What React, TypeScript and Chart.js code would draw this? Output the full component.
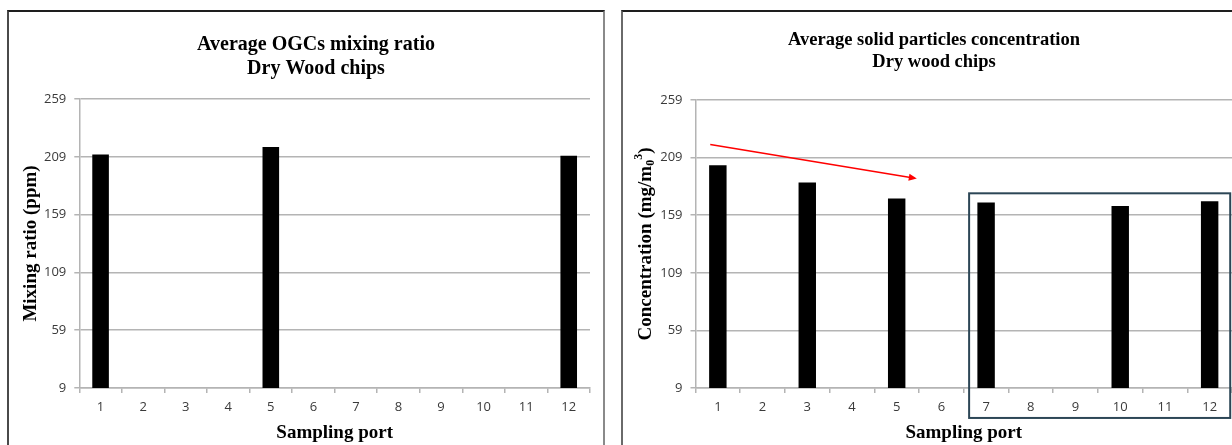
import React, { useEffect, useRef } from "react";
import { Chart, registerables } from "chart.js";

Chart.register(...registerables);

// ---------- data ----------
const ports = ["1", "2", "3", "4", "5", "6", "7", "8", "9", "10", "11", "12"];
const yTicks = [9, 59, 109, 159, 209, 259];
const ogcValues = [211, null, null, null, 217.5, null, null, null, null, null, null, 210];
const particleValues = [202.4, null, 187.3, null, 173.4, null, 170, null, null, 167, null, 171.2];
const ogcTitle = ["Average OGCs mixing ratio", "Dry Wood chips"];
const particleTitle = ["Average solid particles concentration", "Dry wood chips"];
const xTitle = "Sampling port";
const ogcYTitle = [{ text: "Mixing ratio (ppm)", size: 19, dy: 0 }];
const particleYTitle = [
  { text: "Concentration (mg/m", size: 19, dy: 0 },
  { text: "0", size: 12, dy: 5 },
  { text: "3", size: 12, dy: -7 },
  { text: ")", size: 19, dy: 0 },
];
// trend arrow in data coordinates (category index, value)
const trendArrow = [
  { x: -0.17, y: 220.3 },
  { x: 4.45, y: 190.8 },
];
// highlight frame in data coordinates
const highlightBox = { xMin: 5.62, xMax: 11.46, yMin: -17, yMax: 178 };

type Seg = { text: string; size: number; dy: number };
type Spec = {
  left: number;
  top: number;
  w: number;
  h: number;
  values: (number | null)[];
  title: string[];
  titleSize: number;
  titleX: number;
  titleY: number[];
  yTitle: Seg[];
  yTitleX: number;
  xTitleY: number;
  padTop: number;
  padRight: number;
  yAxisWidth: number;
  xAxisHeight: number;
  arrow?: { x: number; y: number }[];
  box?: { xMin: number; xMax: number; yMin: number; yMax: number };
};

const SERIF = '"Liberation Serif", "Times New Roman", serif';
const SANS = '"Open Sans", "Noto Sans", sans-serif';
const GRID = "#b4b4b4";

function buildChart(canvas: HTMLCanvasElement, spec: Spec) {
  const overlay = {
    id: "overlay",
    afterDraw(chart: any) {
      const ctx: CanvasRenderingContext2D = chart.ctx;
      const area = chart.chartArea;
      const xs = chart.scales.x;
      const ys = chart.scales.y;
      ctx.save();
      ctx.fillStyle = "#000";
      ctx.textAlign = "center";
      ctx.textBaseline = "middle";
      // chart title
      ctx.font = `bold ${spec.titleSize}px ${SERIF}`;
      spec.title.forEach((t, i) => ctx.fillText(t, spec.titleX, spec.titleY[i]));
      // x axis title
      ctx.font = `bold 19px ${SERIF}`;
      ctx.fillText(xTitle, (area.left + area.right) / 2, spec.xTitleY);
      // y axis title (rotated, with sub/superscripts)
      ctx.save();
      ctx.translate(spec.yTitleX, (area.top + area.bottom) / 2);
      ctx.rotate(-Math.PI / 2);
      ctx.textAlign = "left";
      let total = 0;
      const widths = spec.yTitle.map((s) => {
        ctx.font = `bold ${s.size}px ${SERIF}`;
        const w = ctx.measureText(s.text).width;
        total += w;
        return w;
      });
      let cx = -total / 2;
      spec.yTitle.forEach((s, i) => {
        ctx.font = `bold ${s.size}px ${SERIF}`;
        ctx.fillText(s.text, cx, s.dy);
        cx += widths[i];
      });
      ctx.restore();
      // arrow
      if (spec.arrow) {
        const x1 = xs.getPixelForValue(spec.arrow[0].x);
        const y1 = ys.getPixelForValue(spec.arrow[0].y);
        const x2 = xs.getPixelForValue(spec.arrow[1].x);
        const y2 = ys.getPixelForValue(spec.arrow[1].y);
        const ang = Math.atan2(y2 - y1, x2 - x1);
        const hl = 8;
        const hw = 3.5;
        ctx.strokeStyle = "#ff0000";
        ctx.fillStyle = "#ff0000";
        ctx.lineWidth = 1.5;
        ctx.beginPath();
        ctx.moveTo(x1, y1);
        ctx.lineTo(x2 - Math.cos(ang) * hl * 0.8, y2 - Math.sin(ang) * hl * 0.8);
        ctx.stroke();
        ctx.beginPath();
        ctx.moveTo(x2, y2);
        ctx.lineTo(
          x2 - Math.cos(ang) * hl - Math.sin(ang) * hw,
          y2 - Math.sin(ang) * hl + Math.cos(ang) * hw
        );
        ctx.lineTo(
          x2 - Math.cos(ang) * hl + Math.sin(ang) * hw,
          y2 - Math.sin(ang) * hl - Math.cos(ang) * hw
        );
        ctx.closePath();
        ctx.fill();
      }
      // highlight box
      if (spec.box) {
        const bx1 = xs.getPixelForValue(spec.box.xMin);
        const bx2 = xs.getPixelForValue(spec.box.xMax);
        const by1 = ys.getPixelForValue(spec.box.yMax);
        const by2 = ys.getPixelForValue(spec.box.yMin);
        ctx.strokeStyle = "#2c4656";
        ctx.lineWidth = 2;
        ctx.strokeRect(bx1, by1, bx2 - bx1, by2 - by1);
      }
      ctx.restore();
    },
  };

  return new Chart(canvas, {
    type: "bar",
    data: {
      labels: ports,
      datasets: [
        {
          data: spec.values as any,
          backgroundColor: "#000000",
          borderColor: "#000000",
          borderWidth: 0,
          barPercentage: 0.39,
          categoryPercentage: 1,
        },
      ],
    },
    options: {
      responsive: false,
      animation: false,
      devicePixelRatio: window.devicePixelRatio || 1,
      layout: { padding: { left: 0, right: spec.padRight, top: spec.padTop, bottom: 0 } },
      plugins: {
        legend: { display: false },
        tooltip: { enabled: false },
        title: { display: false },
      },
      scales: {
        x: {
          grid: {
            display: true,
            drawOnChartArea: false,
            drawTicks: true,
            tickLength: 5,
            color: GRID,
            lineWidth: 1.5,
            offset: true,
          },
          border: { display: true, color: GRID, width: 1.5 },
          ticks: {
            font: { family: SANS, size: 13 },
            color: "#3a3a3a",
            padding: 6,
            maxRotation: 0,
            autoSkip: false,
          },
          afterFit: (s: any) => {
            s.height = spec.xAxisHeight;
          },
        },
        y: {
          min: 9,
          max: 259,
          afterBuildTicks: (s: any) => {
            s.ticks = yTicks.map((v) => ({ value: v }));
          },
          afterFit: (s: any) => {
            s.width = spec.yAxisWidth;
          },
          grid: { color: GRID, lineWidth: 1.5, tickLength: 5, drawTicks: true },
          border: { display: true, color: GRID, width: 1.5 },
          ticks: {
            font: { family: SANS, size: 13 },
            color: "#3a3a3a",
            padding: 8,
          },
        },
      },
    },
    plugins: [overlay],
  } as any);
}

function ChartCanvas({ spec }: { spec: Spec }) {
  const ref = useRef<HTMLCanvasElement>(null);
  useEffect(() => {
    if (!ref.current) return;
    const chart = buildChart(ref.current, spec);
    return () => chart.destroy();
  }, []);
  return (
    <canvas
      ref={ref}
      width={spec.w}
      height={spec.h}
      style={{
        position: "absolute",
        left: spec.left,
        top: spec.top,
        width: spec.w,
        height: spec.h,
        display: "block",
      }}
    />
  );
}

const leftSpec: Spec = {
  left: 8,
  top: 11,
  w: 596,
  h: 434,
  values: ogcValues,
  title: ogcTitle,
  titleSize: 20,
  titleX: 308,
  titleY: [34, 58],
  yTitle: ogcYTitle,
  yTitleX: 23,
  xTitleY: 422,
  padTop: 88,
  padRight: 14,
  yAxisWidth: 71.3,
  xAxisHeight: 57,
};

const rightSpec: Spec = {
  left: 622,
  top: 11,
  w: 610,
  h: 434,
  values: particleValues,
  title: particleTitle,
  titleSize: 18.5,
  titleX: 312,
  titleY: [29, 51],
  yTitle: particleYTitle,
  yTitleX: 24,
  xTitleY: 422,
  padTop: 89,
  padRight: 0,
  yAxisWidth: 73.5,
  xAxisHeight: 57,
  arrow: trendArrow,
  box: highlightBox,
};

export default function App() {
  return (
    <div
      style={{
        position: "fixed",
        left: 0,
        top: 0,
        width: 1232,
        height: 445,
        overflow: "hidden",
        background: "#ffffff",
      }}
    >
      <div
        style={{
          position: "absolute",
          left: 7,
          top: 10,
          width: 598,
          height: 470,
          boxSizing: "border-box",
          borderTop: "2px solid #1e1e1e",
          borderLeft: "2px solid #4a4a4a",
          borderRight: "2px solid #8a8a8a",
        }}
      />
      <div
        style={{
          position: "absolute",
          left: 621,
          top: 10,
          width: 700,
          height: 470,
          boxSizing: "border-box",
          borderTop: "2px solid #1e1e1e",
          borderLeft: "2px solid #6a6a6a",
        }}
      />
      <ChartCanvas spec={leftSpec} />
      <ChartCanvas spec={rightSpec} />
    </div>
  );
}
